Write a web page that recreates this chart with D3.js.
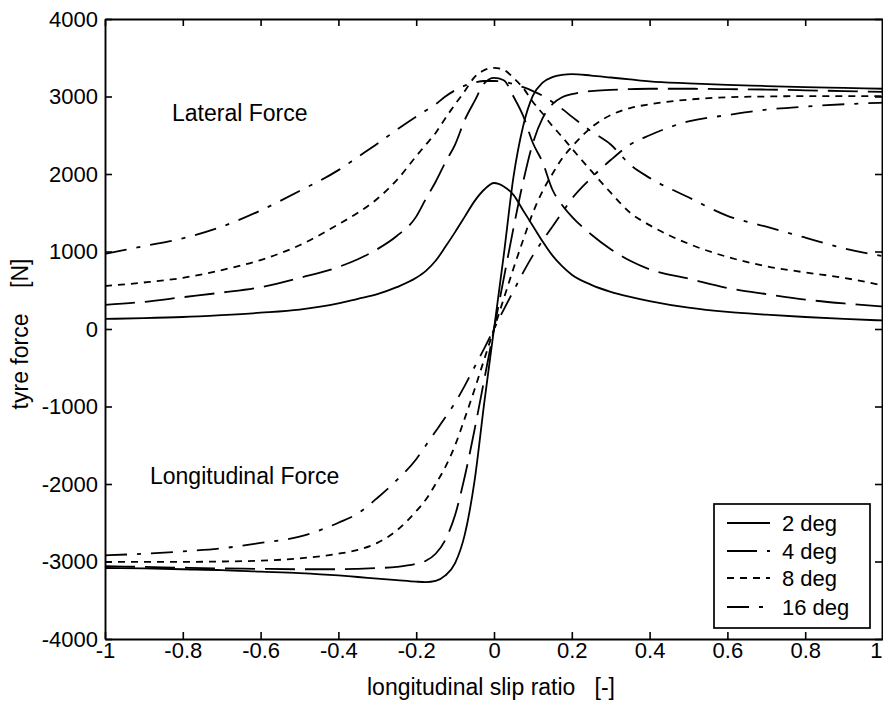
<!DOCTYPE html>
<html><head><meta charset="utf-8">
<script src="https://cdn.jsdelivr.net/npm/d3@7/dist/d3.min.js"></script>
<style>
body{margin:0;background:#fff;}
svg text{font-family:"Liberation Sans",Arial,Helvetica,sans-serif;fill:#000;}
</style></head><body>
<svg id="chart" width="883" height="707"></svg>
<script>
// ---- data ----
const slip = [-1,-0.9,-0.8,-0.7,-0.6,-0.5,-0.4,-0.35,-0.3,-0.25,-0.2,-0.175,-0.15,-0.125,-0.1,-0.075,-0.05,-0.025,0,
              0.025,0.05,0.075,0.1,0.125,0.15,0.175,0.2,0.25,0.3,0.35,0.4,0.5,0.6,0.7,0.8,0.9,1];

const lateral2  = [130,140,155,180,210,250,330,390,450,540,660,750,880,1060,1250,1450,1650,1800,1884,
                   1840,1730,1530,1330,1130,950,810,700,570,480,415,360,275,220,185,155,130,110];
const lateral4  = [310,350,410,470,540,660,800,900,1030,1200,1450,1680,1900,2150,2380,2700,2940,3170,3240,
                   3210,3000,2750,2400,2150,1800,1600,1450,1220,1030,880,770,650,530,450,380,330,290];
const lateral8  = [555,600,660,760,890,1080,1350,1500,1680,1920,2230,2380,2530,2720,2900,3070,3250,3340,3370,
                   3345,3240,3110,2930,2780,2620,2480,2330,2040,1760,1500,1340,1100,930,810,730,660,560];
const lateral16 = [970,1070,1170,1320,1530,1780,2050,2220,2390,2570,2740,2820,2900,3000,3080,3140,3180,3200,3200,
                   3190,3160,3120,3070,3010,2930,2840,2740,2550,2380,2120,1950,1700,1460,1320,1180,1040,940];

const longit2  = [-3084,-3090,-3100,-3110,-3130,-3150,-3180,-3200,-3220,-3240,-3260,-3265,-3250,-3180,-3020,-2650,-1960,-950,0,
                  950,1960,2620,3010,3180,3250,3280,3290,3270,3245,3220,3195,3170,3150,3135,3120,3110,3100];
const longit4  = [-3060,-3070,-3080,-3090,-3095,-3100,-3100,-3095,-3085,-3070,-3030,-2990,-2900,-2720,-2400,-1900,-1300,-650,0,
                  650,1300,1900,2400,2720,2900,2990,3030,3070,3085,3095,3100,3100,3095,3090,3080,3070,3060];
const longit8  = [-3005,-3005,-3005,-3000,-2990,-2960,-2900,-2850,-2760,-2600,-2350,-2200,-2000,-1780,-1500,-1150,-780,-390,0,
                  390,780,1150,1500,1780,2000,2200,2350,2600,2760,2850,2900,2960,2990,3000,3005,3005,3005];
const longit16 = [-2920,-2900,-2870,-2830,-2760,-2680,-2500,-2380,-2180,-1950,-1680,-1500,-1320,-1140,-950,-730,-490,-250,0,
                  250,490,730,950,1140,1320,1500,1680,1950,2180,2380,2500,2680,2760,2830,2870,2900,2920];

const seriesNames = ["2 deg","4 deg","8 deg","16 deg"];
const xTicks = [-1,-0.8,-0.6,-0.4,-0.2,0,0.2,0.4,0.6,0.8,1];
const xTickLabels = ["-1","-0.8","-0.6","-0.4","-0.2","0","0.2","0.4","0.6","0.8","1"];
const yTicks = [-4000,-3000,-2000,-1000,0,1000,2000,3000,4000];
const yTickLabels = ["-4000","-3000","-2000","-1000","0","1000","2000","3000","4000"];

// ---- drawing ----
const svg = d3.select("#chart");
const L = 105, R = 883, T = 19, B = 639;
const x = d3.scaleLinear().domain([-1,1]).range([L,R]);
const y = d3.scaleLinear().domain([-4000,4000]).range([B,T]);

const dashes = [null, "30,10", "7,6", "22,10,4,10"];
const lateral = [lateral2, lateral4, lateral8, lateral16];
const longit = [longit2, longit4, longit8, longit16];

const line = d3.line().x(d=>x(d[0])).y(d=>y(d[1])).curve(d3.curveMonotoneX);

const plot = svg.append("g");
plot.append("clipPath").attr("id","clip").append("rect")
  .attr("x",L).attr("y",T).attr("width",R-L).attr("height",B-T);
const lines = plot.append("g").attr("clip-path","url(#clip)");

function drawSeries(arr){
  arr.forEach((vals,i)=>{
    lines.append("path")
      .datum(slip.map((s,j)=>[s,vals[j]]))
      .attr("d",line)
      .attr("fill","none")
      .attr("stroke","#000")
      .attr("stroke-width",1.8)
      .attr("stroke-dasharray",dashes[i]);
  });
}
drawSeries(lateral);
drawSeries(longit);

// axes
const axStyle = g=>{
  g.selectAll(".domain").attr("stroke","#000").attr("stroke-width",1.9);
  g.selectAll(".tick line").attr("stroke","#000").attr("stroke-width",1.6);
  g.selectAll(".tick text").attr("font-size",22).attr("font-family","Liberation Sans, Arial, sans-serif");
};
const xAxisG = svg.append("g").attr("transform",`translate(0,${B})`)
  .call(d3.axisBottom(x).tickValues(xTicks).tickFormat((d,i)=>xTickLabels[i]).tickSizeInner(-7).tickSizeOuter(0).tickPadding(3))
  .call(axStyle);
// last label sits at the window edge: keep it fully inside
xAxisG.selectAll(".tick text").filter(d=>d===1).attr("text-anchor","end").attr("dx",-1);
svg.append("g").attr("transform",`translate(0,${T})`)
  .call(d3.axisTop(x).tickValues(xTicks).tickFormat("").tickSizeInner(-7).tickSizeOuter(0))
  .call(axStyle);
svg.append("g").attr("transform",`translate(${L},0)`)
  .call(d3.axisLeft(y).tickValues(yTicks).tickFormat((d,i)=>yTickLabels[i]).tickSizeInner(-7).tickSizeOuter(0).tickPadding(7))
  .call(axStyle);
svg.append("g").attr("transform",`translate(${R-1},0)`)
  .call(d3.axisRight(y).tickValues(yTicks).tickFormat("").tickSizeInner(-7).tickSizeOuter(0))
  .call(axStyle);

// annotations
svg.append("text").attr("x",172).attr("y",121).attr("font-size",23).text("Lateral Force");
svg.append("text").attr("x",150).attr("y",484).attr("font-size",23).text("Longitudinal Force");

// axis titles
svg.append("text").attr("x",491).attr("y",695).attr("text-anchor","middle").attr("font-size",23)
  .style("white-space","pre").text("longitudinal slip ratio   [-]");
svg.append("text").attr("transform","translate(28,334) rotate(-90)").attr("text-anchor","middle").attr("font-size",23)
  .style("white-space","pre").text("tyre force    [N]");

// legend
const lg = svg.append("g");
lg.append("rect").attr("x",714).attr("y",504).attr("width",156).attr("height",124)
  .attr("fill","#fff").attr("stroke","#000").attr("stroke-width",1.7);
const legY = [523,551,578,607];
seriesNames.forEach((name,i)=>{
  lg.append("line").attr("x1",727).attr("x2",770).attr("y1",legY[i]).attr("y2",legY[i])
    .attr("stroke","#000").attr("stroke-width",1.8).attr("stroke-dasharray",dashes[i]);
  lg.append("text").attr("x",782).attr("y",legY[i]+8).attr("font-size",22).text(name);
});
</script>
</body></html>
